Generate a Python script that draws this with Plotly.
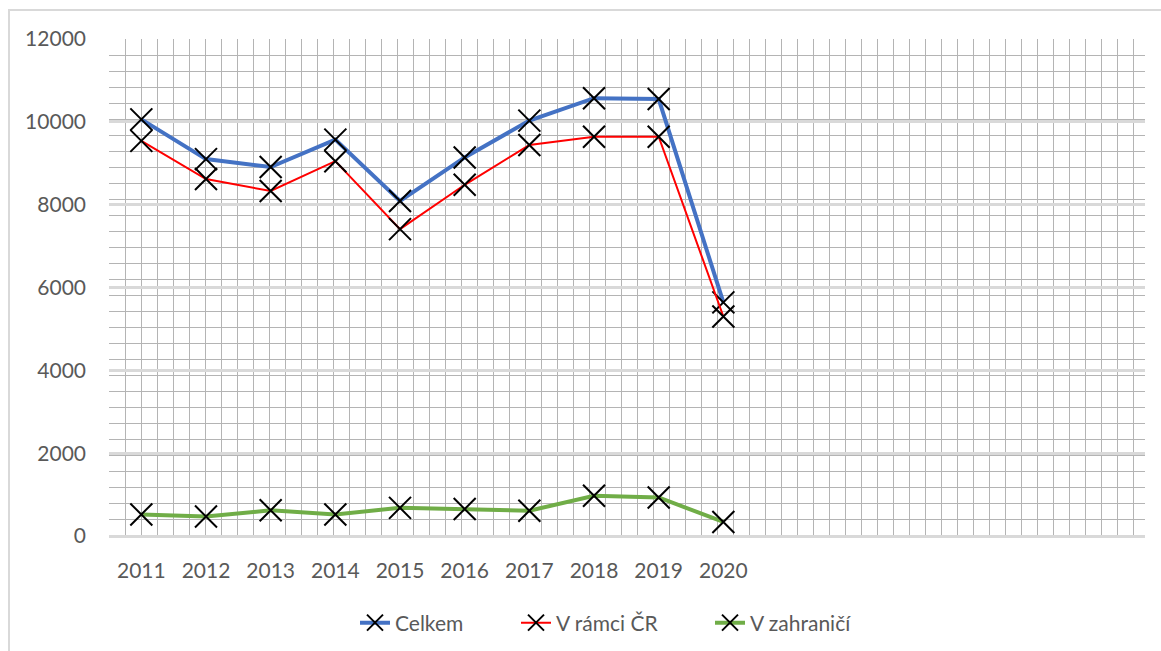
import plotly.graph_objects as go

# ---- data ----
YEARS = [2011, 2012, 2013, 2014, 2015, 2016, 2017, 2018, 2019, 2020]
YEAR_LABELS = [str(y) for y in YEARS]
CELKEM = [10060, 9100, 8910, 9570, 8090, 9140, 10030, 10570, 10550, 5640]
V_RAMCI_CR = [9540, 8620, 8330, 9050, 7410, 8480, 9440, 9640, 9640, 5300]
V_ZAHRANICI = [520, 470, 620, 520, 680, 650, 610, 970, 930, 340]
SERIES_NAMES = ["Celkem", "V rámci ČR", "V zahraničí"]
Y_TICKS = [0, 2000, 4000, 6000, 8000, 10000, 12000]
Y_TICK_LABELS = [str(v) for v in Y_TICKS]

# ---- layout constants (pixel coordinates) ----
W, H = 1161, 651
PLOT_L, PLOT_R = 109, 1145
PLOT_T, PLOT_B = 39, 536
ML, MR = PLOT_L, W - PLOT_R
MT, MB = PLOT_T, H - PLOT_B
PW = PLOT_R - PLOT_L
PH = PLOT_B - PLOT_T
X_RANGE = [2010.5, 2026.52]
Y_RANGE = [0, 12000]
CELL_X = 16
N_ROWS = 31                   # rows of the graph-paper pattern

TEXT = "#595959"
FONT = "Lato"

def px_to_paper_x(px):
    return (px - PLOT_L) / PW

def py_to_paper_y(py):
    return (PLOT_B - py) / PH

fig = go.Figure()

styles = [
    dict(color="#4472C4", width=4),
    dict(color="#FF0000", width=2),
    dict(color="#70AD47", width=4),
]
values = [CELKEM, V_RAMCI_CR, V_ZAHRANICI]
legends = ["legend", "legend2", "legend3"]

for name, vals, st, lg in zip(SERIES_NAMES, values, styles, legends):
    fig.add_trace(go.Scatter(
        x=YEARS, y=vals, name=name, mode="lines+markers",
        line=st,
        marker=dict(symbol="x-thin", size=22, color="black",
                    line=dict(width=2, color="black")),
        legend=lg, showlegend=True,
    ))

legend_common = dict(orientation="h", yanchor="middle", xanchor="left",
                     font=dict(family=FONT, size=21, color=TEXT),
                     bgcolor="rgba(0,0,0,0)", borderwidth=0, visible=True)
legend_y = py_to_paper_y(623)

fig.update_layout(
    width=W, height=H,
    margin=dict(l=ML, r=MR, t=MT, b=MB, autoexpand=False),
    paper_bgcolor="white", plot_bgcolor="white",
    font=dict(family=FONT, size=21, color=TEXT),
    showlegend=True,
    xaxis=dict(
        range=X_RANGE, tickmode="array", tickvals=YEARS, ticktext=YEAR_LABELS,
        showgrid=False, zeroline=False, showline=False, ticks="",
        ticklabelstandoff=20,
        tickfont=dict(family=FONT, size=21, color=TEXT),
        minor=dict(showgrid=True, tick0=X_RANGE[0],
                   dtick=(X_RANGE[1] - X_RANGE[0]) * CELL_X / PW,
                   gridcolor="#b4b4b4", gridwidth=1, ticks=""),
    ),
    yaxis=dict(
        range=Y_RANGE, tickmode="array", tickvals=Y_TICKS, ticktext=Y_TICK_LABELS,
        showgrid=True, gridcolor="#d9d9d9", gridwidth=2.5,
        zeroline=True, zerolinecolor="#d9d9d9", zerolinewidth=2.5,
        showline=False, ticks="", ticklabelstandoff=22,
        tickfont=dict(family=FONT, size=21, color=TEXT),
        minor=dict(showgrid=True, tick0=0, dtick=(Y_RANGE[1] - Y_RANGE[0]) / N_ROWS,
                   gridcolor="#b4b4b4", gridwidth=1, ticks=""),
    ),
    legend=dict(x=px_to_paper_x(355), y=legend_y, **legend_common),
    legend2=dict(x=px_to_paper_x(516), y=legend_y, **legend_common),
    legend3=dict(x=px_to_paper_x(710), y=legend_y, **legend_common),
    hovermode=False,
)

# chart-area border (light gray frame of the Excel chart)
fig.add_shape(type="rect", xref="paper", yref="paper",
              x0=px_to_paper_x(9), x1=px_to_paper_x(1180),
              y0=py_to_paper_y(680), y1=py_to_paper_y(10),
              line=dict(color="#d9d9d9", width=2), fillcolor="rgba(0,0,0,0)",
              layer="below")

POST = (
    "var d=document.documentElement,b=document.body;"
    "d.style.margin='0';d.style.padding='0';"
    "b.style.margin='0';b.style.padding='0';b.style.overflow='hidden';"
)

fig.write_html("out.html", config={"displayModeBar": False}, post_script=POST)
